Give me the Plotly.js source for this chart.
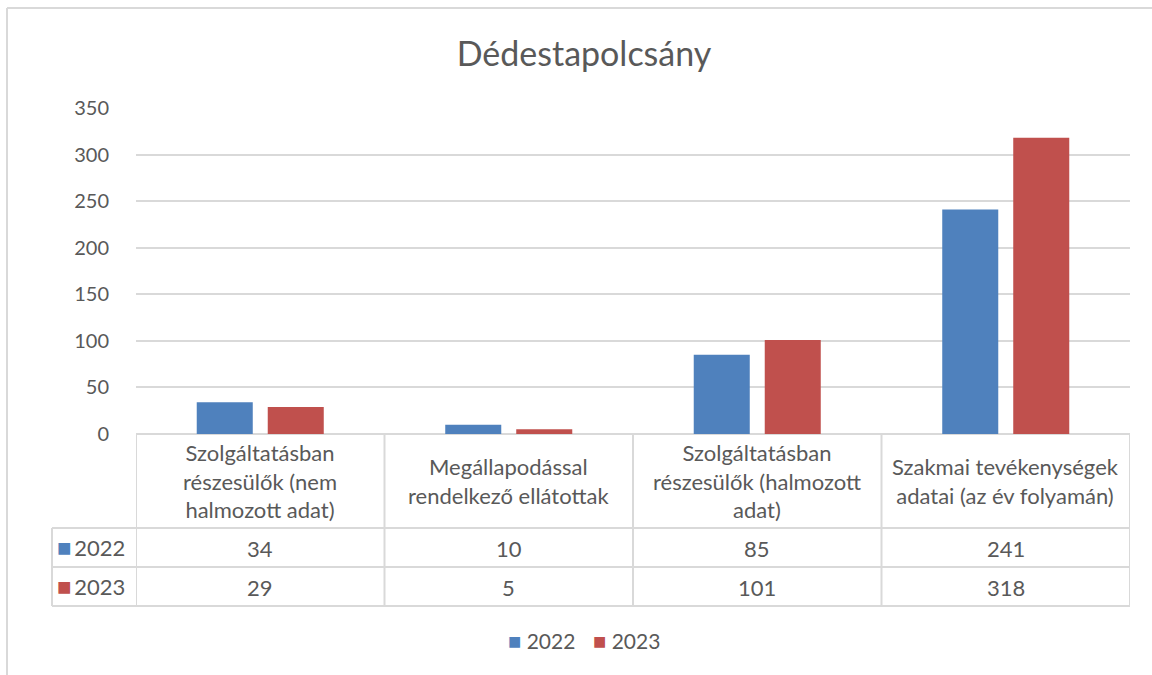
<!DOCTYPE html>
<html>
<head>
<meta charset="utf-8">
<script src="https://cdn.plot.ly/plotly-3.0.1.min.js"></script>
<style>html,body{margin:0;padding:0;background:#fff;}</style>
</head>
<body>
<div id="chart" style="width:1152px;height:675px;"></div>
<script>
// ---- data ----
const chartTitle = "Dédestapolcsány";
const categories = [
  "Szolgáltatásban részesülők (nem halmozott adat)",
  "Megállapodással rendelkező ellátottak",
  "Szolgáltatásban részesülők (halmozott adat)",
  "Szakmai tevékenységek adatai (az év folyamán)"
];
const categoryLabels = [
  "Szolgáltatásban<br>részesülők (nem<br>halmozott adat)",
  "Megállapodással<br>rendelkező ellátottak",
  "Szolgáltatásban<br>részesülők (halmozott<br>adat)",
  "Szakmai tevékenységek<br>adatai (az év folyamán)"
];
const seriesNames = ["2022", "2023"];
const values2022 = [34, 10, 85, 241];
const values2023 = [29, 5, 101, 318];
const seriesColors = ["#4F81BD", "#C0504D"];
const yTicks = [0, 50, 100, 150, 200, 250, 300, 350];

// ---- layout helpers ----
const W = 1152, H = 675;
const plotL = 136, plotR = 1130, plotT = 108, plotB = 434;
const pw = plotR - plotL, ph = plotB - plotT;
const px = v => (v - plotL) / pw;      // pixel -> paper x
const py = v => (plotB - v) / ph;      // pixel -> paper y
const FONT = "Lato, 'Open Sans', sans-serif";
const TXT = "#595959";
const GRID = "#D9D9D9";
const TFS = 22;

const traces = [
  {type: "bar", name: seriesNames[0], x: categories, y: values2022,
   marker: {color: seriesColors[0], line: {width: 0}}, hoverinfo: "y"},
  {type: "bar", name: seriesNames[1], x: categories, y: values2023,
   marker: {color: seriesColors[1], line: {width: 0}}, hoverinfo: "y"}
];

const rowHeaderBottom = 528, row1Bottom = 567, row2Bottom = 606;
const shapes = [];
const line = (x0, y0, x1, y1) => shapes.push({
  type: "line", xref: "paper", yref: "paper",
  x0: x0, y0: y0, x1: x1, y1: y1,
  line: {color: GRID, width: 2}, layer: "below"
});
// outer chart border (left + top)
line(px(7), py(8), px(7), py(700));
line(px(7), py(8), px(1200), py(8));
// table horizontal lines
line(px(plotL), py(plotB), px(plotR), py(plotB));
line(px(52), py(rowHeaderBottom), px(plotR), py(rowHeaderBottom));
line(px(52), py(row1Bottom), px(plotR), py(row1Bottom));
line(px(52), py(row2Bottom), px(plotR), py(row2Bottom));
// left column vertical line
line(px(52), py(rowHeaderBottom), px(52), py(row2Bottom));
// category boundaries (data coordinates on the category axis)
for (let i = 0; i <= categories.length; i++) {
  shapes.push({type: "line", xref: "x", yref: "paper",
    x0: i - 0.5, x1: i - 0.5, y0: py(plotB), y1: py(row2Bottom),
    line: {color: GRID, width: 2}, layer: "below"});
}

const annotations = [];
const txtFont = {family: FONT, size: TFS, color: TXT};
categories.forEach((c, i) => {
  annotations.push({xref: "x", yref: "paper", x: c, y: py(481),
    text: categoryLabels[i], showarrow: false, xanchor: "center", yanchor: "middle",
    font: txtFont, align: "center"});
  annotations.push({xref: "x", yref: "paper", x: c, y: py(548),
    text: String(values2022[i]), showarrow: false, xanchor: "center", yanchor: "middle",
    font: txtFont});
  annotations.push({xref: "x", yref: "paper", x: c, y: py(587),
    text: String(values2023[i]), showarrow: false, xanchor: "center", yanchor: "middle",
    font: txtFont});
});
const key = (k, s) => "<span style='color:" + seriesColors[k] + ";font-size:" + s + "px'>■</span>";
// row headers in the data table
seriesNames.forEach((n, k) => {
  annotations.push({xref: "paper", yref: "paper", x: px(55), y: py(k === 0 ? 546 : 585),
    xanchor: "left", yanchor: "middle", showarrow: false,
    text: key(k, 24) + "\u2009" + n, font: txtFont});
});
// bottom legend
const legendX = [506, 591];
seriesNames.forEach((n, k) => {
  annotations.push({xref: "paper", yref: "paper", x: px(legendX[k]), y: py(640),
    xanchor: "left", yanchor: "middle", showarrow: false,
    text: key(k, 22) + " " + n, font: {family: FONT, size: 21, color: TXT}});
});

const layout = {
  width: W, height: H,
  margin: {l: plotL, r: W - plotR, t: plotT, b: H - plotB, pad: 0},
  paper_bgcolor: "#ffffff", plot_bgcolor: "#ffffff",
  title: {text: chartTitle, x: 584 / W, xref: "container", xanchor: "center",
          y: 1 - 54 / H, yref: "container", yanchor: "middle",
          font: {family: FONT, size: 34, color: TXT}},
  barmode: "group", bargap: 0.4286, bargroupgap: 0.211,
  xaxis: {showticklabels: false, showgrid: false, zeroline: false, showline: false,
          ticks: "", range: [-0.5, categories.length - 0.5], fixedrange: true},
  yaxis: {range: [0, 350], tickvals: yTicks, ticktext: yTicks.map(String),
          showgrid: true, gridcolor: GRID, gridwidth: 2, zeroline: false,
          showline: false, ticks: "outside", ticklen: 22, tickcolor: "rgba(0,0,0,0)",
          tickfont: {family: FONT, size: 20, color: TXT}, fixedrange: true},
  showlegend: false,
  shapes: shapes,
  annotations: annotations
};

Plotly.newPlot("chart", traces, layout, {displayModeBar: false, staticPlot: true});
</script>
</body>
</html>
